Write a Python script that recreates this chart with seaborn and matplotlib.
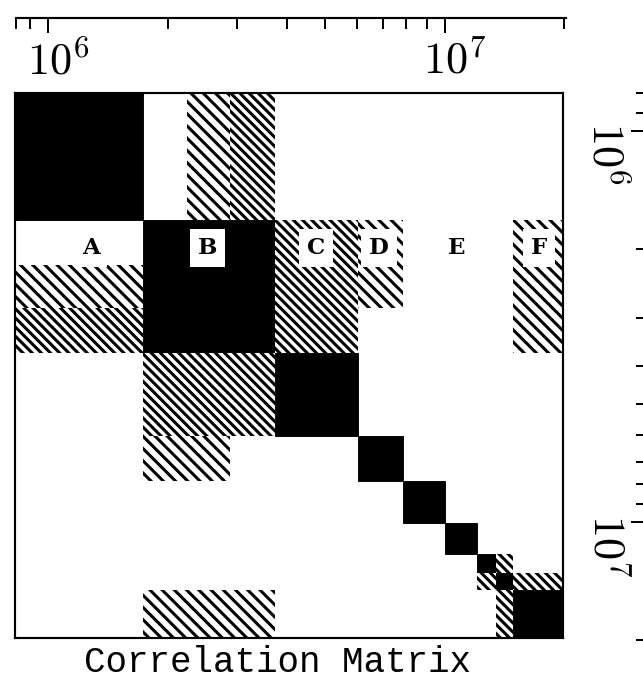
import numpy as np
import matplotlib
matplotlib.use("Agg")
import matplotlib.pyplot as plt
import matplotlib.transforms as mtransforms
from matplotlib.ticker import FixedLocator, FixedFormatter, NullFormatter, NullLocator
import seaborn as sns

# Bin edges (same binning on both axes)
bin_edges = [8.26e5, 1.73e6, 2.24e6, 2.87e6, 3.73e6, 6.04e6,
             7.84e6, 1.0e7, 1.2e7, 1.34e7, 1.48e7, 1.98e7]
bin_names = ["A", "B1", "B2", "B3", "C", "D", "E1", "E2", "E3", "E4", "F"]

# Correlation level between bins:
# 0 = none, 1 = weak (sparse hatch), 2 = moderate (dense hatch), 3 = strong (solid)
corr_levels = [
    # A  B1 B2 B3 C  D  E1 E2 E3 E4 F
    [3, 0, 1, 2, 0, 0, 0, 0, 0, 0, 0],  # A
    [0, 3, 3, 3, 2, 1, 0, 0, 0, 0, 1],  # B1
    [1, 3, 3, 3, 2, 1, 0, 0, 0, 0, 1],  # B2
    [2, 3, 3, 3, 2, 0, 0, 0, 0, 0, 1],  # B3
    [0, 2, 2, 2, 3, 0, 0, 0, 0, 0, 0],  # C
    [0, 1, 1, 0, 0, 3, 0, 0, 0, 0, 0],  # D
    [0, 0, 0, 0, 0, 0, 3, 0, 0, 0, 0],  # E1
    [0, 0, 0, 0, 0, 0, 0, 3, 0, 0, 0],  # E2
    [0, 0, 0, 0, 0, 0, 0, 0, 3, 2, 0],  # E3
    [0, 0, 0, 0, 0, 0, 0, 0, 2, 3, 2],  # E4
    [0, 1, 1, 1, 0, 0, 0, 0, 0, 2, 3],  # F
]

# Group labels and where they sit
group_labels = ["A", "B", "C", "D", "E", "F"]
group_label_x = [1.28e6, 2.52e6, 4.73e6, 6.82e6, 1.07e7, 1.72e7]
group_label_y = 2.03e6

# Ruler ticks
major_ticks = [1e6, 1e7]
major_labels = [r"$10^6$", r"$10^7$"]
top_minor_ticks = [8.31e5, 9e5, 2e6, 3e6, 4e6, 5e6, 6e6, 7e6, 8e6, 9e6, 2e7]
right_minor_ticks = [8e5, 9e5, 2e6, 3e6, 4e6, 5e6, 6e6, 7e6, 8e6, 9e6, 2e7]

sns.set_theme(style="white")
plt.rcParams["font.family"] = ["Liberation Mono", "DejaVu Sans"]
plt.rcParams["mathtext.fontset"] = "cm"
plt.rcParams["hatch.linewidth"] = 2.0

W, H, DPI = 643, 689, 110
fig = plt.figure(figsize=(W / DPI, H / DPI), dpi=DPI, facecolor="white")


def px_axes(x0, y0, x1, y1):
    return fig.add_axes([x0 / W, 1 - y1 / H, (x1 - x0) / W, (y1 - y0) / H])


# ---- main matrix ----
ax = px_axes(15, 93, 563, 638)
ax.set_xscale("log")
ax.set_yscale("log")

edges = np.asarray(bin_edges)
levels = np.asarray(corr_levels)
hatches = {1: "\\" * 3, 2: "\\" * 4}
n = len(bin_names)
for i in range(n):
    for j in range(n):
        lev = levels[i, j]
        if lev == 0:
            continue
        x0, x1 = edges[j], edges[j + 1]
        y0, y1 = edges[i], edges[i + 1]
        if lev == 3:
            ax.bar(x0, y1 - y0, width=x1 - x0, bottom=y0, align="edge",
                   color="black", edgecolor="black", linewidth=0.6)
        else:
            ax.bar(x0, y1 - y0, width=x1 - x0, bottom=y0, align="edge",
                   facecolor="white", edgecolor="black", linewidth=0,
                   hatch=hatches[lev])

ax.set_xlim(edges[0], edges[-1])
ax.set_ylim(edges[-1] * 0.985, edges[0])
for loc_axis in (ax.xaxis, ax.yaxis):
    loc_axis.set_major_locator(NullLocator())
    loc_axis.set_minor_locator(NullLocator())
for s in ax.spines.values():
    s.set_visible(True)
    s.set_color("black")
    s.set_linewidth(1.4)

for lab, lx in zip(group_labels, group_label_x):
    ax.text(lx, group_label_y, lab, ha="center", va="center",
            fontsize=15, fontweight="bold", color="black",
            family=["DejaVu Serif"],
            bbox=dict(boxstyle="square,pad=0.35", facecolor="white",
                      edgecolor="none"))

# ---- top ruler ----
axt = px_axes(16, 17, 566, 18)
axt.set_xscale("log")
axt.set_xlim(8.3e5, 2.02e7)
axt.patch.set_visible(False)
for s in ("top", "left", "right"):
    axt.spines[s].set_visible(False)
axt.spines["bottom"].set_color("black")
axt.spines["bottom"].set_linewidth(1.4)
axt.yaxis.set_major_locator(NullLocator())
axt.yaxis.set_minor_locator(NullLocator())
axt.xaxis.set_major_locator(FixedLocator(major_ticks))
axt.xaxis.set_major_formatter(FixedFormatter(major_labels))
axt.xaxis.set_minor_locator(FixedLocator(top_minor_ticks))
axt.xaxis.set_minor_formatter(NullFormatter())
axt.tick_params(axis="x", which="major", direction="out", length=10,
                width=1.3, pad=5, labelsize=29, colors="black",
                bottom=True)
axt.tick_params(axis="x", which="minor", direction="out", length=7,
                width=1.3, colors="black", bottom=True)
shift_x = mtransforms.ScaledTranslation(10 / DPI, 0, fig.dpi_scale_trans)
for lbl in axt.get_xticklabels():
    lbl.set_transform(lbl.get_transform() + shift_x)

# ---- right ruler ----
axr = px_axes(643, 80, 644, 645)
axr.set_yscale("log")
axr.set_ylim(2.06e7, 7.41e5)
axr.patch.set_visible(False)
for s in axr.spines.values():
    s.set_visible(False)
axr.xaxis.set_major_locator(NullLocator())
axr.xaxis.set_minor_locator(NullLocator())
axr.yaxis.set_major_locator(FixedLocator(major_ticks))
axr.yaxis.set_major_formatter(FixedFormatter(major_labels))
axr.yaxis.set_minor_locator(FixedLocator(right_minor_ticks))
axr.yaxis.set_minor_formatter(NullFormatter())
axr.tick_params(axis="y", which="major", direction="out", length=8,
                width=1.3, pad=3, labelsize=29, labelrotation=-90,
                colors="black", left=True)
axr.tick_params(axis="y", which="minor", direction="out", length=4.5,
                width=1.3, colors="black", left=True)
shift_y = mtransforms.ScaledTranslation(0, -8 / DPI, fig.dpi_scale_trans)
for lbl in axr.get_yticklabels():
    lbl.set_transform(lbl.get_transform() + shift_y)

# ---- caption ----
fig.text(277 / W, 1 - 663 / H, "Correlation Matrix", ha="center",
         va="center", fontsize=23.5, color="black",
         family=["Liberation Mono", "DejaVu Sans"])

fig.savefig("out.png", dpi=DPI, facecolor="white")
